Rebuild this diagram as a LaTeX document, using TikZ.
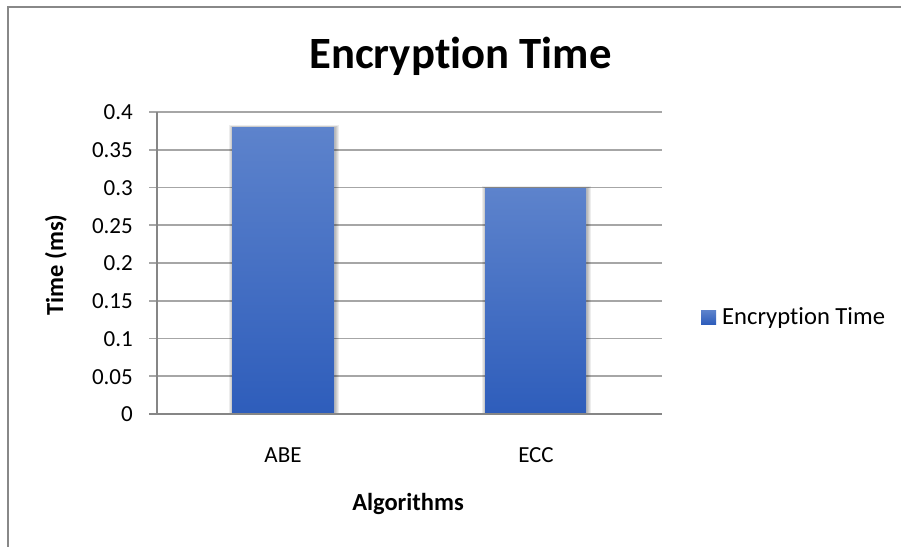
\documentclass[tikz,border=0pt]{standalone}
\usepackage{fontspec}
\setmainfont{Carlito}[Ligatures={NoCommon}]
\newcommand{\nolig}{\kern0pt }
\definecolor{bartop}{RGB}{93,131,204}
\definecolor{barbot}{RGB}{46,93,187}
\definecolor{gridc}{RGB}{166,166,166}
\definecolor{axisc}{RGB}{134,134,134}
\definecolor{framec}{RGB}{136,136,136}
\tikzset{
  lbl/.style={inner sep=0pt, font=\fontsize{23}{27}\selectfont},
  leglbl/.style={inner sep=0pt, font=\fontsize{24.6}{29}\selectfont},
  btitle/.style={inner sep=0pt, font=\fontsize{24.5}{29}\selectfont\bfseries},
  gridline/.style={draw=gridc, line width=1.6pt},
  axisline/.style={draw=axisc, line width=2pt},
  barfill/.style={top color=bartop, bottom color=barbot, draw=none},
  barshadow/.style={fill=black, fill opacity=0.07, draw=none},
}
\begin{document}
\begin{tikzpicture}[x=1pt,y=-1pt]
\clip (0,0) rectangle (901,546);
\fill[white] (0,0) rectangle (901,546);
% outer frame
\draw[framec, line width=2pt] (8,7) rectangle (920,560);
% title
\node[inner sep=0pt, font=\fontsize{44.7}{52}\selectfont\bfseries, anchor=base] (title) at (460.5,68) {Encrypt\nolig ion Time};
% gridlines
\foreach \i/\v in {1/0.05,2/0.1,3/0.15,4/0.2,5/0.25,6/0.3,7/0.35,8/0.4}{
  \coordinate (gl\i) at (149,{414-\i*37.75});
  \coordinate (gr\i) at (662,{414-\i*37.75});
  \draw[gridline] (gl\i) -- (gr\i);
}
\foreach \i/\v in {0/0,1/0.05,2/0.1,3/0.15,4/0.2,5/0.25,6/0.3,7/0.35,8/0.4}{
  \node[lbl, anchor=east] (tick\i) at (133,{414-\i*37.75+0.5}) {\v};
}
% bars with shadow
\foreach \k in {1,2,3,4}{
  \fill[barshadow] ({232-\k+1},{127-\k/2}) rectangle ({334+\k+1},414);
  \fill[barshadow] ({485-\k+1},{188-\k/2}) rectangle ({586+\k+1},414);
}
\path[barfill] (232,127) rectangle (334,414);
\node[inner sep=0pt, minimum width=102pt, minimum height=287pt] (abe) at (283,270.5) {};
\path[barfill] (485,188) rectangle (586,414);
\node[inner sep=0pt, minimum width=101pt, minimum height=226pt] (ecc) at (535.5,301) {};
% axes
\coordinate (ytop) at (157,112);
\coordinate (origin) at (157,414);
\coordinate (xleft) at (149,414);
\coordinate (xright) at (662,414);
\draw[axisline] (ytop) -- (origin);
\draw[axisline] (xleft) -- (xright);
% category labels
\node[lbl, anchor=base] (labe) at (283,462) {ABE};
\node[lbl, anchor=base] (lecc) at (536,462) {ECC};
% axis titles
\node[btitle, anchor=base] (xtitle) at (408,510) {Algorithms};
\node[btitle, anchor=base, rotate=90] (ytitle) at (63,265) {Time (ms)};
% legend
\path[barfill] (701,310) rectangle (716,324);
\node[inner sep=0pt, minimum size=14pt] (legkey) at (708.5,317) {};
\node[leglbl, anchor=base west] (legtext) at (722,324) {Encrypt\nolig ion Time};
\end{tikzpicture}
\end{document}
